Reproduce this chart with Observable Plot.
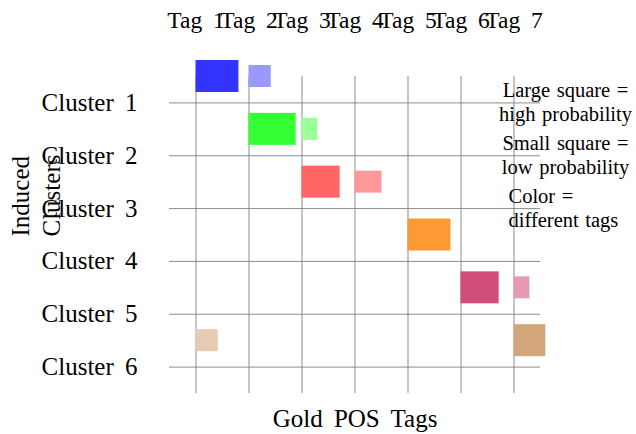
<!DOCTYPE html>
<html><head><meta charset="utf-8">
<script src="https://cdn.jsdelivr.net/npm/d3@7"></script>
<script src="https://cdn.jsdelivr.net/npm/@observablehq/plot@0.6"></script>
<style>
body{margin:0;background:#fff;}
#chart svg text{word-spacing:5px;}
#chart svg text.legend-note{word-spacing:1.5px;}
</style></head><body><div id="chart"></div>
<script>
// ---- data ----
const tags = ["Tag 1","Tag 2","Tag 3","Tag 4","Tag 5","Tag 6","Tag 7"];
const clusters = ["Cluster 1","Cluster 2","Cluster 3","Cluster 4","Cluster 5","Cluster 6"];
const cellTag     = [1, 2, 2, 3, 3, 4, 5, 6, 7, 7, 1];
const cellCluster = [1, 1, 2, 2, 3, 3, 4, 5, 5, 6, 6];
const cellProb    = [0.81, 0.42, 0.89, 0.30, 0.72, 0.51, 0.81, 0.72, 0.30, 0.60, 0.42];
const cellLevel   = ["high","low","high","low","high","low","high","high","low","high","low"];
const legendNotes = ["Large square =\nhigh probability", "Small square =\nlow probability", "Color =\ndifferent tags"];
const xLabel = "Gold POS Tags";
const yLabel = "Induced\nClusters";

// ---- styles ----
const highColors = ["#3333ff","#33ff33","#ff6666","#ff9933","#d14d7a","#d2a679"];
const lowColors  = ["#9999ff","#99ff99","#ff9999","#ffcc99","#e699b3","#e6ccb3"];
const levelHeight = {high: 0.605, low: 0.415};

const cells = cellTag.map((t, i) => ({
  tag: t, cluster: cellCluster[i], prob: cellProb[i], level: cellLevel[i]
}));

const chart = Plot.plot({
  width: 636, height: 434,
  marginLeft: 169, marginRight: 96, marginTop: 76, marginBottom: 41,
  style: {fontFamily: "'Liberation Serif', 'Times New Roman', serif", color: "black", background: "white"},
  x: {domain: [0.5, 7.5], axis: null},
  y: {domain: [0.5, 6.5], reverse: true, axis: null},
  color: {type: "identity"},
  marks: [
    Plot.gridX(tags.map((d, i) => i + 1), {stroke: "#808080", strokeOpacity: 0.9, strokeWidth: 1}),
    Plot.gridY(clusters.map((d, i) => i + 1), {stroke: "#808080", strokeOpacity: 0.9, strokeWidth: 1}),
    Plot.rect(cells, {
      x1: d => d.tag, x2: d => d.tag + d.prob,
      y1: d => d.cluster - 0.5 - levelHeight[d.level] / 2,
      y2: d => d.cluster - 0.5 + levelHeight[d.level] / 2,
      fill: d => (d.level === "high" ? highColors : lowColors)[d.cluster - 1]
    }),
    Plot.text(tags, {x: (d, i) => i + 1, frameAnchor: "top", lineAnchor: "bottom", dy: -49, fontSize: 23.5}),
    Plot.text(clusters, {y: (d, i) => i + 1, frameAnchor: "left", textAnchor: "end", dx: -32, fontSize: 25}),
    Plot.text([yLabel], {frameAnchor: "left", rotate: -90, dx: -135, dy: 1.5, fontSize: 25, lineHeight: 1.24}),
    Plot.text([xLabel], {frameAnchor: "bottom", lineAnchor: "bottom", dy: 33, fontSize: 25}),
    Plot.text(legendNotes.slice(0, 2), {y: (d, i) => i + 1, frameAnchor: "right", dx: 25, dy: 18, textAnchor: "middle", lineAnchor: "bottom", lineHeight: 1.15, fontSize: 20.5}),
    Plot.text(legendNotes.slice(2), {y: 3, frameAnchor: "right", dx: -32, dy: 18, textAnchor: "start", lineAnchor: "bottom", lineHeight: 1.15, fontSize: 20.5})
  ]
});
d3.select(chart).selectAll('g[aria-label="text"]')
  .filter((d, i) => i >= 4)
  .selectAll("text")
  .classed("legend-note", true);
document.getElementById("chart").appendChild(chart);
</script></body></html>
